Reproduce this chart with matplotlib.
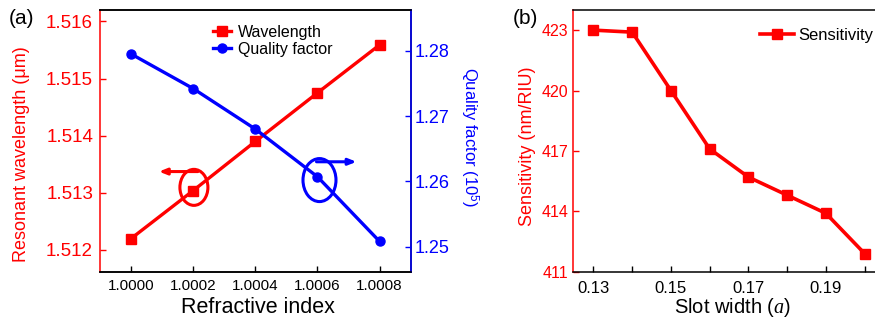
import matplotlib
matplotlib.use("Agg")
import matplotlib.pyplot as plt
from matplotlib.patches import Ellipse
from matplotlib import transforms

plt.rcParams['font.family'] = ['Liberation Sans', 'DejaVu Sans']
plt.rcParams['mathtext.fontset'] = 'custom'
plt.rcParams['mathtext.rm'] = 'Liberation Sans'
plt.rcParams['mathtext.it'] = 'Liberation Serif:italic'

# ---------------- data ----------------
refr_index = [1.0000, 1.0002, 1.0004, 1.0006, 1.0008]
wavelength = [1.51220, 1.51304, 1.51390, 1.51475, 1.51559]
quality = [1.2795, 1.2742, 1.2680, 1.2607, 1.2508]
refr_ticks = ["1.0000", "1.0002", "1.0004", "1.0006", "1.0008"]
wl_ticks = [1.512, 1.513, 1.514, 1.515, 1.516]
q_ticks = [1.25, 1.26, 1.27, 1.28]

slot_width = [0.13, 0.14, 0.15, 0.16, 0.17, 0.18, 0.19, 0.20]
sensitivity = [423.0, 422.9, 420.0, 417.1, 415.7, 414.8, 413.9, 411.9]
sw_ticks = [0.13, 0.15, 0.17, 0.19]
sw_minor = [0.14, 0.16, 0.18, 0.20]
sens_ticks = [411, 414, 417, 420, 423]

RED = '#ff0000'
BLUE = '#0000ff'
W, H = 875, 321

fig = plt.figure(figsize=(8.75, 3.21), dpi=100)

def px_axes(x0, x1, ytop, ybot):
    return fig.add_axes([x0 / W, 1 - ybot / H, (x1 - x0) / W, (ybot - ytop) / H])

# ---------------- panel (a) ----------------
ax = px_axes(100, 410.7, 10, 271.7)
ax2 = ax.twinx()

l1, = ax.plot(refr_index, wavelength, '-s', color=RED, lw=2.4, ms=6.5, label='Wavelength')
l2, = ax2.plot(refr_index, quality, '-o', color=BLUE, lw=2.4, ms=6.5, label='Quality factor')

ax.set_xlim(0.99990, 1.00090)
ax.set_ylim(1.51162, 1.51620)
ax2.set_ylim(1.24617, 1.28623)

ax.set_xticks(refr_index)
ax.set_xticklabels(refr_ticks)
ax.set_yticks(wl_ticks)
ax.set_yticklabels([f"{v:.3f}" for v in wl_ticks])
ax2.set_yticks(q_ticks)
ax2.set_yticklabels([f"{v:.2f}" for v in q_ticks])

ax.tick_params(axis='x', direction='in', length=4, width=1, labelsize=11, pad=5, colors='black')
ax.tick_params(axis='y', direction='in', length=4, width=1, labelsize=13.5, pad=5,
               colors=RED, labelcolor=RED)
ax2.tick_params(axis='y', direction='in', length=4, width=1, labelsize=13, pad=3,
                colors=BLUE, labelcolor=BLUE)

for a in (ax, ax2):
    for s in a.spines.values():
        s.set_linewidth(1.1)
ax.spines['left'].set_color(RED)
ax2.spines['left'].set_visible(False)
ax2.spines['right'].set_color(BLUE)

ax.set_xlabel('Refractive index', fontsize=15.5)
ax.xaxis.set_label_coords(0.5085, -0.1387)
ax.xaxis.label.set_verticalalignment('center')
ax.set_ylabel('Resonant wavelength (μm)', fontsize=13, color=RED)
ax.yaxis.set_label_coords(-0.252, 0.45)
ax.yaxis.label.set_verticalalignment('center')
ax2.set_ylabel('Quality factor (10$^5$)', fontsize=12, color=BLUE, rotation=270)
ax2.yaxis.set_label_coords(1.1877, 0.515)
ax2.yaxis.label.set_verticalalignment('center')

fig.legend(handles=[l1, l2], loc='upper left', bbox_to_anchor=(205 / W, 1 - 17 / H),
           frameon=False, fontsize=11.5, borderpad=0, handlelength=1.1,
           handletextpad=0.45, labelspacing=0.1)

# circle-and-arrow annotations
p = 1
tr_r = fig.dpi_scale_trans + transforms.ScaledTranslation(refr_index[p], wavelength[p], ax.transData)
ax.add_patch(Ellipse((0.007, 0.032), 0.28, 0.36, transform=tr_r, fill=False,
                     edgecolor=RED, lw=2.2, clip_on=False))
ax.annotate('', xy=(-0.343, 0.19), xycoords=tr_r, xytext=(0.047, 0.19), textcoords=tr_r,
            arrowprops=dict(arrowstyle='-|>,head_length=0.45,head_width=0.18',
                            color=RED, lw=2.2, shrinkA=0, shrinkB=0))
q = 3
tr_b = fig.dpi_scale_trans + transforms.ScaledTranslation(refr_index[q], quality[q], ax2.transData)
ax2.add_patch(Ellipse((0.02, -0.033), 0.33, 0.43, transform=tr_b, fill=False,
                      edgecolor=BLUE, lw=2.2, clip_on=False))
ax2.annotate('', xy=(0.39, 0.15), xycoords=tr_b, xytext=(-0.01, 0.15), textcoords=tr_b,
             arrowprops=dict(arrowstyle='-|>,head_length=0.45,head_width=0.18',
                             color=BLUE, lw=2.2, shrinkA=0, shrinkB=0))

fig.text(22 / W, 1 - 18 / H, '(a)', fontsize=15, ha='center', va='center')

# ---------------- panel (b) ----------------
bx = px_axes(573.3, 884, 10, 271.7)
l3, = bx.plot(slot_width, sensitivity, '-s', color=RED, lw=2.6, ms=7, label='Sensitivity')
bx.set_xlim(0.1248, 0.205)
bx.set_ylim(411, 424)
bx.set_xticks(sw_ticks)
bx.set_xticklabels([f"{v:.2f}" for v in sw_ticks])
bx.set_xticks(sw_minor, minor=True)
bx.set_yticks(sens_ticks)
bx.set_yticklabels([str(v) for v in sens_ticks])
bx.tick_params(axis='x', which='both', direction='in', length=4, width=1, labelsize=12, pad=7)
bx.tick_params(axis='y', direction='in', length=4, width=1, labelsize=11.5, pad=3.5,
               colors=RED, labelcolor=RED)
for s in bx.spines.values():
    s.set_linewidth(1.1)
bx.spines['left'].set_color(RED)

bx.set_xlabel('Slot width ($a$)', fontsize=14.5)
bx.xaxis.set_label_coords(0.512, -0.135)
bx.xaxis.label.set_verticalalignment('center')
bx.set_ylabel('Sensitivity (nm/RIU)', fontsize=13, color=RED)
bx.yaxis.set_label_coords(-0.149, 0.48)
bx.yaxis.label.set_verticalalignment('center')

fig.legend(handles=[l3], loc='upper left', bbox_to_anchor=(752 / W, 1 - 20 / H),
           frameon=False, fontsize=12, borderpad=0, handlelength=2.0,
           handletextpad=0.3)

fig.text(525 / W, 1 - 18 / H, '(b)', fontsize=15, ha='center', va='center')

fig.savefig('out.png', dpi=100)
